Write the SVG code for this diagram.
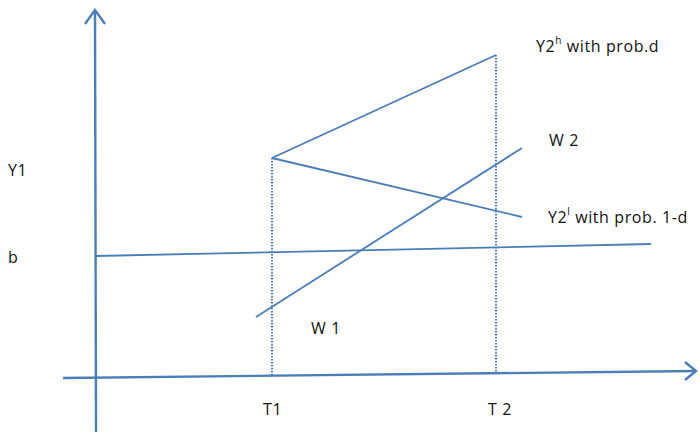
<svg xmlns="http://www.w3.org/2000/svg" width="700" height="433" viewBox="0 0 700 433">
<style>
.ax{stroke:#4a7ebb;stroke-width:2.4;fill:none}
.ln{stroke:#4a7ebb;stroke-width:1.8;fill:none}
.dot{stroke:#4a7ebb;stroke-width:2;fill:none;stroke-dasharray:1.6 1.4}
text{font-family:"Open Sans",Lato,"Liberation Sans",sans-serif;font-size:16px;letter-spacing:0.6px;fill:#111}
.sup{font-size:10px}
</style>
<rect width="700" height="433" fill="#fff"/>
<g id="connectors">
<line class="ax" x1="96" y1="432" x2="95" y2="10"/>
<polyline class="ax" points="85,24 95,10 105,24"/>
<line class="ax" x1="63" y1="378" x2="696" y2="371"/>
<polyline class="ax" points="685,362 696,371 685,380"/>
<line class="ln" x1="96" y1="256" x2="651" y2="244"/>
<line class="ln" x1="272" y1="158" x2="496" y2="55"/>
<line class="ln" x1="272" y1="158" x2="522" y2="217"/>
<line class="ln" x1="256" y1="317" x2="522" y2="148"/>
<line class="dot" x1="272" y1="158" x2="272" y2="376"/>
<line class="dot" x1="496" y1="55" x2="496" y2="373"/>
</g>
<g id="labels">
<text x="536" y="52">Y2<tspan class="sup" dy="-8">h</tspan><tspan dy="8"> with prob.d</tspan></text>
<text x="549" y="146">W 2</text>
<text x="548" y="223">Y2<tspan class="sup" dy="-8">l</tspan><tspan dy="8"> with prob. 1-d</tspan></text>
<text x="8" y="176">Y1</text>
<text x="8" y="263">b</text>
<text x="311" y="334">W 1</text>
<text x="263" y="415">T1</text>
<text x="488" y="415">T 2</text>
</g>
</svg>
